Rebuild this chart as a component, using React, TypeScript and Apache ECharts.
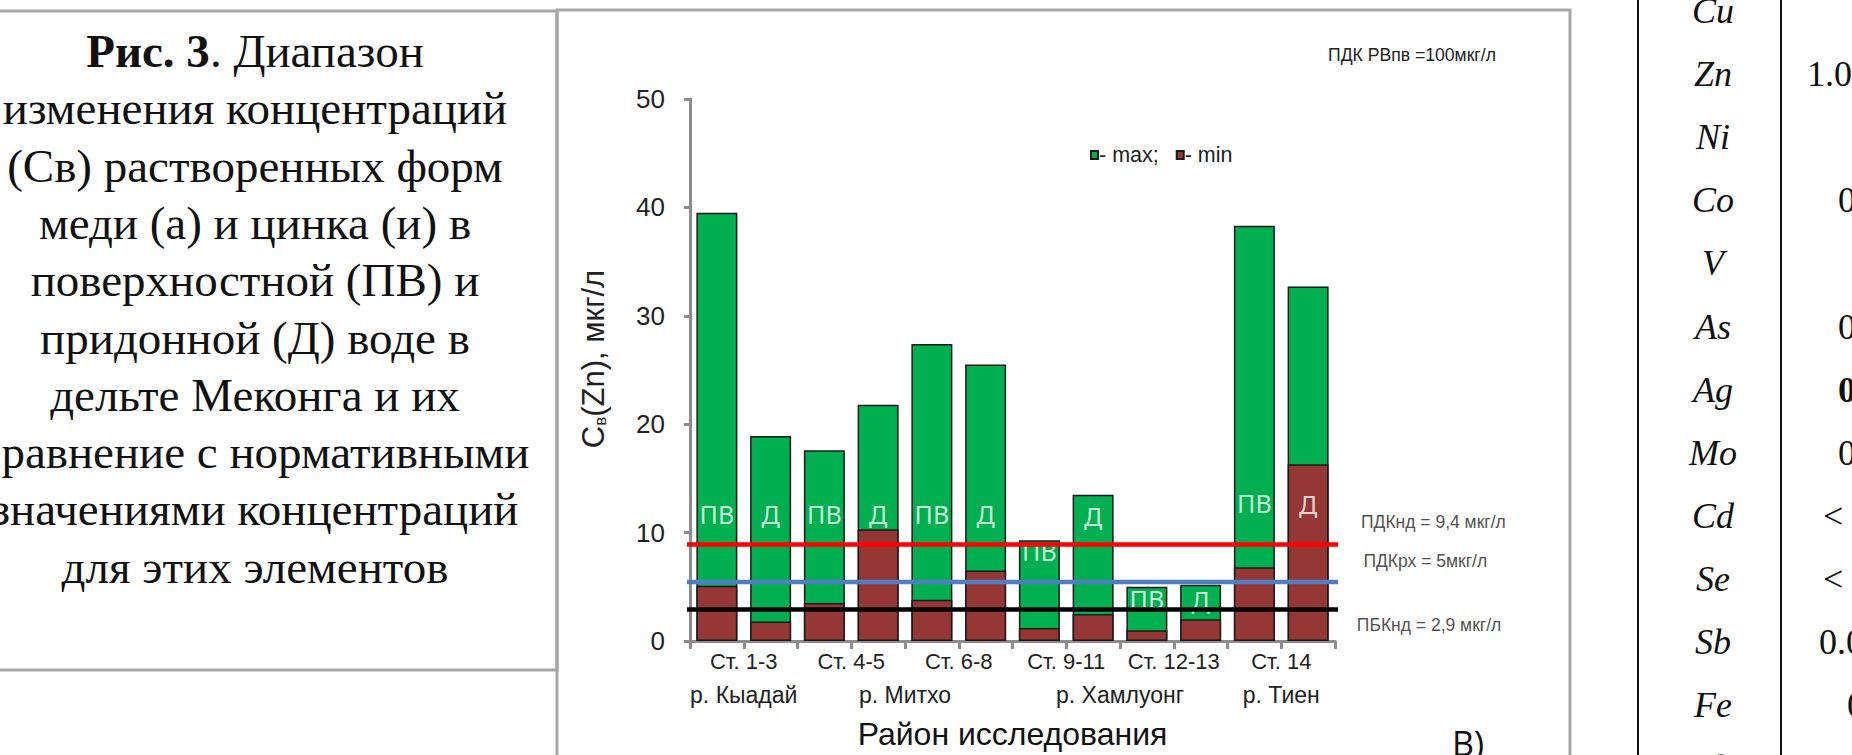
import React, { useEffect, useRef } from "react";
import * as echarts from "echarts";

// ---------- data ----------
const barKeys = ["1-3 ПВ", "1-3 Д", "4-5 ПВ", "4-5 Д", "6-8 ПВ", "6-8 Д", "9-11 ПВ", "9-11 Д", "12-13 ПВ", "12-13 Д", "14 ПВ", "14 Д"];
const maxValues = [39.5, 18.9, 17.6, 21.8, 27.4, 25.5, 9.3, 13.5, 5.0, 5.2, 38.3, 32.7];
const minValues = [5.1, 1.8, 3.5, 10.3, 3.8, 6.5, 1.2, 2.5, 1.0, 2.0, 6.8, 16.3];
const waterLabels = ["ПВ", "Д", "ПВ", "Д", "ПВ", "Д", "ПВ", "Д", "ПВ", "Д", "ПВ", "Д"];
const waterLabelY = [11.7, 11.7, 11.7, 11.7, 11.7, 11.7, 8.3, 11.5, 3.9, 3.8, 12.7, 12.6];
const stations = ["Ст. 1-3", "Ст. 4-5", "Ст. 6-8", "Ст. 9-11", "Ст. 12-13", "Ст. 14"];
const rivers = ["р. Кыадай", "р. Митхо", "р. Хамлуонг", "р. Тиен"];
const riverTicks = [1, 4, 8, 11];
const refNames = ["ПДКнд = 9,4 мкг/л", "ПДКрх = 5мкг/л", "ПБКнд = 2,9 мкг/л"];
const refValues = [8.9, 5.45, 2.9];
const refColors = ["#ff0000", "#4f7fc0", "#000000"];
const refStart = -0.33;
const refEnd = [13.4, 13.55, 13.4];
const refLabelX = [13.83, 13.68, 13.75];
const refLabelY = [11.0, 7.36, 1.45];
const yMin = 0;
const yMax = 50;
const yInterval = 10;

const captionLines = [
  "{b|Рис. 3}. Диапазон",
  "изменения концентраций",
  "(Св) растворенных форм",
  "меди (а) и цинка (и) в",
  "поверхностной (ПВ) и",
  "придонной (Д) воде в",
  "дельте Меконга и их",
  "сравнение с нормативными",
  "значениями концентраций",
  "для этих элементов",
];
const tableElements = ["Cu", "Zn", "Ni", "Co", "V", "As", "Ag", "Mo", "Cd", "Se", "Sb", "Fe", "Pb"];
const tableValues = ["", "1.0", "", "0", "", "0", "0", "0", "<", "<", "0.0", "0", ""];

// ---------- layout constants ----------
const SANS = '"Liberation Sans", Arial, sans-serif';
const SERIF = '"Liberation Serif", "Times New Roman", serif';
const AXIS_GRAY = "#8c8c8c";
const TXT = "#222";

const captionTop = 51;
const captionStep = 57.3;
const tableTop = 11;
const tableStep = 63.1;
const tableValueX = [0, 1807, 0, 1838, 0, 1838, 1838, 1838, 1823, 1823, 1819, 1847, 0];

function buildOption(): any {
  const graphic: any[] = [];
  // left caption box
  graphic.push({
    type: "rect",
    shape: { x: -60, y: 11, width: 617, height: 659 },
    style: { fill: "none", stroke: "#a6a6a6", lineWidth: 3 },
    silent: true,
  });
  // chart frame
  graphic.push({
    type: "rect",
    shape: { x: 557, y: 10, width: 1013, height: 800 },
    style: { fill: "none", stroke: "#a6a6a6", lineWidth: 3 },
    silent: true,
  });
  captionLines.forEach((t, i) => {
    graphic.push({
      type: "text",
      x: 255,
      y: captionTop + i * captionStep,
      style: {
        text: t,
        fontSize: 47,
        fontFamily: SERIF,
        fill: "#111",
        align: "center",
        verticalAlign: "middle",
        rich: { b: { fontSize: 47, fontFamily: SERIF, fontWeight: "bold", fill: "#111" } },
      },
      silent: true,
    });
  });
  // table lines
  [1638, 1781].forEach((x) => {
    graphic.push({
      type: "line",
      shape: { x1: x, y1: 0, x2: x, y2: 755 },
      style: { stroke: "#111", lineWidth: 2 },
      silent: true,
    });
  });
  tableElements.forEach((t, i) => {
    graphic.push({
      type: "text",
      x: 1713,
      y: tableTop + i * tableStep,
      style: {
        text: t,
        fontSize: 36,
        fontFamily: SERIF,
        fontStyle: "italic",
        fill: "#111",
        align: "center",
        verticalAlign: "middle",
      },
      silent: true,
    });
    if (tableValues[i]) {
      graphic.push({
        type: "text",
        x: tableValueX[i],
        y: tableTop + i * tableStep,
        style: {
          text: tableValues[i],
          fontSize: 36,
          fontFamily: SERIF,
          fontWeight: i === 6 ? "bold" : "normal",
          fill: "#111",
          align: "left",
          verticalAlign: "middle",
        },
        silent: true,
      });
    }
  });
  graphic.push({
    type: "text",
    x: 1452,
    y: 726,
    style: { text: "В)", fontSize: 34, fontFamily: '"Open Sans", sans-serif', fill: "#111", align: "left", verticalAlign: "top" },
    silent: true,
  });

  const series: any[] = [
    {
      name: "max",
      type: "bar",
      xAxisIndex: 0,
      yAxisIndex: 0,
      data: maxValues,
      barWidth: 41,
      barGap: "-100%",
      itemStyle: { color: "#00b050", borderColor: "#1a1a1a", borderWidth: 1.5 },
      z: 2,
    },
    {
      name: "min",
      type: "bar",
      xAxisIndex: 0,
      yAxisIndex: 0,
      data: minValues,
      barWidth: 41,
      barGap: "-100%",
      itemStyle: { color: "#953735", borderColor: "#1a1a1a", borderWidth: 1.5 },
      z: 2,
    },
    {
      name: "labels",
      type: "scatter",
      xAxisIndex: 2,
      yAxisIndex: 0,
      data: waterLabels.map((_, i) => [i + 0.5, waterLabelY[i]]),
      symbolSize: 1,
      itemStyle: { color: "rgba(0,0,0,0)" },
      label: {
        show: true,
        position: "inside",
        formatter: (p: any) => waterLabels[p.dataIndex],
        color: "#ffffff",
        fontSize: 25,
        fontFamily: '"Noto Sans", sans-serif',
      },
      silent: true,
      z: 3,
    },
  ];
  refValues.forEach((v, i) => {
    series.push({
      name: refNames[i],
      type: "line",
      xAxisIndex: 2,
      yAxisIndex: 0,
      data: [
        [refStart, v],
        [refEnd[i], v],
      ],
      clip: false,
      symbol: "none",
      lineStyle: { color: refColors[i], width: 4.5 },
      silent: true,
      z: 5,
    });
  });
  series.push({
    name: "refLabels",
    type: "scatter",
    xAxisIndex: 2,
    yAxisIndex: 0,
    data: refLabelX.map((x, i) => [x, refLabelY[i]]),
    clip: false,
    symbolSize: 1,
    itemStyle: { color: "rgba(0,0,0,0)" },
    label: {
      show: true,
      position: "inside",
      formatter: (p: any) => refNames[p.dataIndex],
      color: TXT,
      fontSize: 17.5,
      fontFamily: SANS,
    },
    silent: true,
    z: 6,
  });

  return {
    animation: false,
    backgroundColor: "#ffffff",
    title: {
      text: "ПДК РВпв =100мкг/л",
      left: 1323,
      top: 41,
      textStyle: { fontSize: 17.6, fontWeight: "normal", color: TXT, fontFamily: SANS },
    },
    legend: {
      data: ["max", "min"],
      left: 1085,
      top: 139,
      icon: "rect",
      itemWidth: 7,
      itemHeight: 8,
      itemGap: 17,
      selectedMode: false,
      formatter: (name: string) => (name === "max" ? "- max;" : "- min"),
      textStyle: { fontSize: 21.5, color: TXT, fontFamily: SANS, padding: [0, 0, 0, -4] },
    },
    grid: { left: 690, top: 99, width: 645, height: 549, containLabel: false },
    xAxis: [
      {
        type: "category",
        data: barKeys,
        position: "bottom",
        axisLine: { show: true, lineStyle: { color: AXIS_GRAY, width: 3 } },
        axisTick: { show: true, interval: 0, length: 8, lineStyle: { color: AXIS_GRAY, width: 3 } },
        axisLabel: { show: false },
        splitLine: { show: false },
        name: "Район исследования",
        nameLocation: "middle",
        nameGap: 77,
        nameTextStyle: { fontSize: 32, color: "#111", fontFamily: SANS },
      },
      {
        type: "category",
        data: stations,
        position: "bottom",
        axisLine: { show: false },
        axisTick: { show: false },
        axisLabel: { show: true, interval: 0, fontSize: 22, margin: 9, color: TXT, fontFamily: SANS },
        splitLine: { show: false },
      },
      {
        type: "value",
        min: 0,
        max: 12,
        interval: 1,
        position: "bottom",
        axisLine: { show: false },
        axisTick: { show: false },
        splitLine: { show: false },
        axisLabel: {
          show: true,
          margin: 42,
          fontSize: 23,
          color: TXT,
          fontFamily: SANS,
          formatter: (v: number) => {
            const k = riverTicks.indexOf(Math.round(v));
            return k >= 0 ? rivers[k] : "";
          },
        },
      },
    ],
    yAxis: [
      {
        type: "value",
        min: yMin,
        max: yMax,
        interval: yInterval,
        offset: 5,
        axisLine: { show: true, lineStyle: { color: AXIS_GRAY, width: 3 } },
        axisTick: { show: true, length: 6, lineStyle: { color: AXIS_GRAY, width: 3 } },
        axisLabel: { fontSize: 26, color: TXT, margin: 20, fontFamily: SANS },
        splitLine: { show: false },
        name: "{a|C}{s|в}{a|(Zn), мкг/л}",
        nameLocation: "middle",
        nameRotate: 90,
        nameGap: 76,
        nameTextStyle: {
          fontFamily: SANS,
          color: TXT,
          padding: [0, 0, 0, 22],
          rich: {
            a: { fontSize: 31, fontFamily: SANS, color: TXT },
            s: { fontSize: 17, fontFamily: SANS, color: TXT, padding: [13, 0, 0, 0] },
          },
        },
      },
    ],
    series,
    graphic,
  };
}

export default function App() {
  const ref = useRef<HTMLDivElement>(null);
  useEffect(() => {
    document.body.style.margin = "0";
    const chart = echarts.init(ref.current!, null, { renderer: "svg" });
    chart.setOption(buildOption());
    return () => chart.dispose();
  }, []);
  return <div ref={ref} style={{ position: "absolute", left: 0, top: 0, width: 1852, height: 755 }} />;
}
